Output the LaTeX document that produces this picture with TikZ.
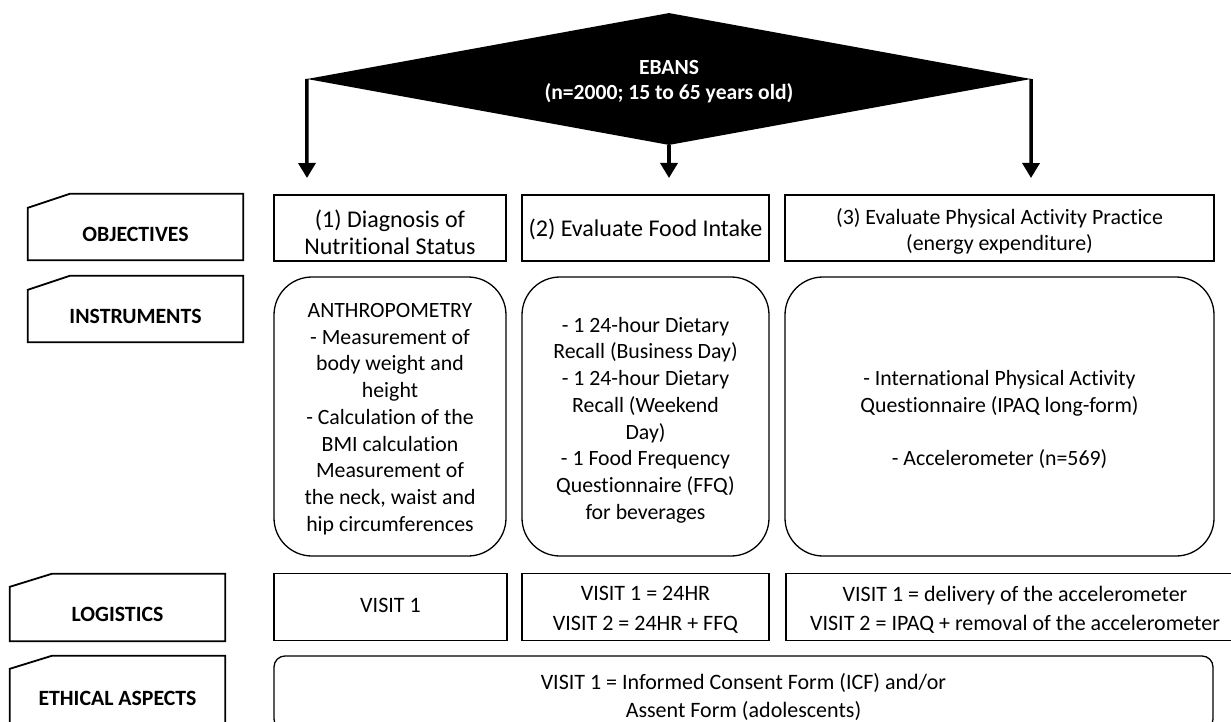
\documentclass[tikz,border=0pt]{standalone}
\usepackage{fontspec}
\setmainfont{Carlito}[Ligatures=CommonOff]
\usetikzlibrary{shapes.geometric,arrows.meta,calc}
\tikzset{
  box/.style={draw, line width=1.3pt, inner sep=0pt, align=center},
  rbox/.style={box, rounded corners=38pt},
  lblbox/.style={minimum width=215pt, inner sep=0pt},
  lblline/.style={line width=1.8pt, line join=miter},
  lbltext/.style={font=\bfseries\fontsize{21.8}{26}\selectfont, inner sep=0pt},
  objfont/.style={font=\fontsize{24}{27}\selectfont, align=center, inner sep=0pt},
  objfontS/.style={font=\fontsize{21.9}{26}\selectfont, align=center, inner sep=0pt},
  insfont/.style={font=\fontsize{21.8}{26.7}\selectfont, align=center},
  logfont/.style={font=\fontsize{22}{29.5}\selectfont, align=center, inner sep=0pt},
  ethfont/.style={font=\fontsize{22}{28}\selectfont, align=center},
  arr/.style={line width=3.5pt, -{Triangle[length=15pt,width=17pt]}},
}
\begin{document}
\begin{tikzpicture}[x=1pt,y=-1pt]
\useasboundingbox (0,0) rectangle (1231,722);
\clip (0,0) rectangle (1231,722);

% top diamond
\node[diamond, fill=black, inner sep=0pt, minimum width=724pt, minimum height=132pt] (dia) at (669,79) {};
\node[text=white, align=center, font=\bfseries\fontsize{21.6}{25}\selectfont] (diaT) at (669,82) {EBANS\\(n=2000; 15 to 65 years old)};
\coordinate (t1) at (307,178);
\coordinate (t2) at (669,178);
\coordinate (t3) at (1031,178);
\draw[arr] (dia.west) -- (t1);
\draw[arr] (dia.south) -- (t2);
\draw[arr] (dia.east) -- (t3);

% left labels
\node[lblbox, minimum height=66pt] (objL) at (135.5,227) {};
\draw[lblline] (objL.south west) -- ([yshift=-14pt]objL.north west) -- ([xshift=42pt]objL.north west) -- (objL.north east) -- (objL.south east) -- cycle;
\node[lbltext] (objLT) at ($(objL.south)!0.5!([yshift=-14pt]objL.north)$) {OBJECTIVES};

\node[lblbox, minimum height=66pt] (insL) at (135.5,309) {};
\draw[lblline] (insL.south west) -- ([yshift=-14pt]insL.north west) -- ([xshift=42pt]insL.north west) -- (insL.north east) -- (insL.south east) -- cycle;
\node[lbltext] (insLT) at ($(insL.south)!0.5!([yshift=-14pt]insL.north)$) {INSTRUMENTS};

\node[lblbox, minimum height=67pt] (logL) at (117.5,607.5) {};
\draw[lblline] (logL.south west) -- ([yshift=-13pt]logL.north west) -- ([xshift=42pt]logL.north west) -- (logL.north east) -- (logL.south east) -- cycle;
\node[lbltext] (logLT) at ($(logL.south)!0.5!([yshift=-13pt]logL.north)$) {LOGISTICS};

\node[lblbox, minimum height=71pt] (ethL) at (117.5,691.5) {};
\draw[lblline] (ethL.south west) -- ([yshift=-13pt]ethL.north west) -- ([xshift=42pt]ethL.north west) -- (ethL.north east) -- (ethL.south east) -- cycle;
\node[lbltext] (ethLT) at ($(ethL.south)!0.5!([yshift=-13pt]ethL.north)$) {ETHICAL ASPECTS};

% objectives
\node[box, minimum width=232pt, minimum height=66pt] (o1) at (390,228) {};
\node[objfont] (o1T) at (390,232) {(1) Diagnosis of\\Nutritional Status};
\node[box, minimum width=247pt, minimum height=66pt] (o2) at (645.5,228) {};
\node[objfont] (o2T) at (645.5,229) {(2) Evaluate Food Intake};
\node[box, minimum width=429pt, minimum height=66pt] (o3) at (999.5,228) {};
\node[objfontS] (o3T) at (999.5,231) {(3) Evaluate Physical Activity Practice\\(energy expenditure)};

% instruments
\node[rbox, minimum width=232pt, minimum height=279pt] (i1) at (390,416.5) {};
\node[insfont] (i1T) at (390,419) {ANTHROPOMETRY\\- Measurement of\\body weight and\\height\\- Calculation of the\\BMI calculation\\Measurement of\\the neck, waist and\\hip circumferences};
\node[rbox, minimum width=247pt, minimum height=279pt] (i2) at (645.5,416.5) {};
\node[insfont] (i2T) at (645.5,420) {- 1 24-hour Dietary\\Recall (Business Day)\\- 1 24-hour Dietary\\Recall (Weekend\\Day)\\- 1 Food Frequency\\Questionnaire (FFQ)\\for beverages};
\node[rbox, minimum width=429pt, minimum height=279pt] (i3) at (999.5,416.5) {};
\node[insfont] (i3T) at (999.5,419.5) {- International Physical Activity\\Questionnaire (IPAQ long-form)\\[26.7pt]- Accelerometer (n=569)};

% logistics
\node[box, minimum width=233pt, minimum height=67pt] (l1) at (390.5,607) {};
\node[logfont] (l1T) at (390.5,605) {VISIT 1};
\node[box, minimum width=247pt, minimum height=67pt] (l2) at (645.5,607) {};
\node[logfont] (l2T) at (645.5,610) {VISIT 1 = 24HR\\VISIT 2 = 24HR + FFQ};
\node[box, minimum width=460pt, minimum height=67pt] (l3) at (1016,607) {};
\node[logfont] (l3T) at (1015,610) {VISIT 1 = delivery of the accelerometer\\VISIT 2 = IPAQ + removal of the accelerometer};

% ethical
\node[box, rounded corners=11pt, minimum width=939pt, minimum height=74pt] (e1) at (743.5,693) {};
\node[ethfont] (e1T) at (743.5,697) {VISIT 1 = Informed Consent Form (ICF) and/or\\Assent Form (adolescents)};
\end{tikzpicture}
\end{document}
